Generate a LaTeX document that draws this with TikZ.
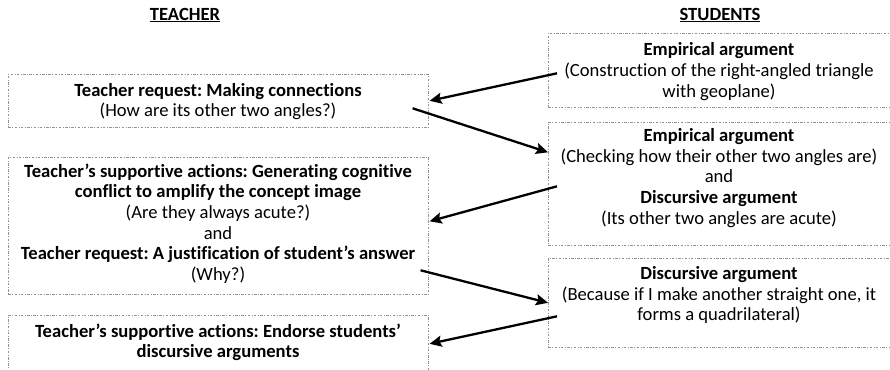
\documentclass[tikz,border=0pt]{standalone}
\usepackage{fontspec}
\setmainfont{Carlito}[Ligatures=NoCommon]
\frenchspacing
\usetikzlibrary{arrows.meta,calc}
\begin{document}
\begin{tikzpicture}[x=1pt,y=-1pt,
  box/.style={draw=gray!85, line width=0.6pt, dash pattern=on 2.5pt off 1.5pt on 0.8pt off 1.5pt, inner sep=0pt, anchor=north west},
  txt/.style={align=center, font=\fontsize{18.6}{20.6}\selectfont, inner sep=0pt},
  arr/.style={line width=2.3pt, -{Stealth[length=12pt,width=11pt,inset=2pt]}}]
\useasboundingbox (0,0) rectangle (890,369);
\clip (0,0) rectangle (890,369);
% boxes
\node[box, minimum width=420pt, minimum height=53pt] (L1) at (8,74) {};
\node[box, minimum width=420pt, minimum height=137pt] (L2) at (8,157) {};
\node[box, minimum width=420pt, minimum height=57pt] (L3) at (8,315) {};
\node[box, minimum width=343pt, minimum height=74pt] (R1) at (548,33) {};
\node[box, minimum width=343pt, minimum height=123pt] (R2) at (548,122) {};
\node[box, minimum width=343pt, minimum height=89pt] (R3) at (548,258) {};
% headers
\node[txt] (hT) at (185,15) {\textbf{\underline{TEACHER}}};
\node[txt] (hS) at (720,15) {\textbf{\underline{STUDENTS}}};
% texts
\node[txt] (L1t) at (218,101.5) {\textbf{Teacher request: Making connections}\\(How are its other two angles?)};
\node[txt] (L2t) at (218,223.5) {\textbf{Teacher’s supportive actions: Generating cognitive}\\\textbf{conflict to amplify the concept image}\\(Are they always acute?)\\and\\\textbf{Teacher request: A justification of student’s answer}\\(Why?)};
\node[txt] (L3t) at (218,342.5) {\textbf{Teacher’s supportive actions: Endorse students’}\\\textbf{discursive arguments}};
\node[txt] (R1t) at (719,71.5) {\textbf{Empirical argument}\\(Construction of the right-angled triangle\\with geoplane)};
\node[txt] (R2t) at (719,178) {\textbf{Empirical argument}\\(Checking how their other two angles are)\\and\\\textbf{Discursive argument}\\(Its other two angles are acute)};
\node[txt] (R3t) at (719,295) {\textbf{Discursive argument}\\(Because if I make another straight one, it\\forms a quadrilateral)};
% arrows
\draw[arr] ($(R1.west)+(9,3)$) -- ($(L1.east)+(1,0)$);
\draw[arr] ($(L1.east)+(-16,7.5)$) -- ($(R2.west)+(0,-31.5)$);
\draw[arr] ($(R2.west)+(9,2.5)$) -- ($(L2.east)+(1,-4.5)$);
\draw[arr] ($(L2.east)+(-8,44.5)$) -- (R3.west);
\draw[arr] ($(R3.west)+(9,13.5)$) -- ($(L3.east)+(1,0)$);
\end{tikzpicture}
\end{document}
